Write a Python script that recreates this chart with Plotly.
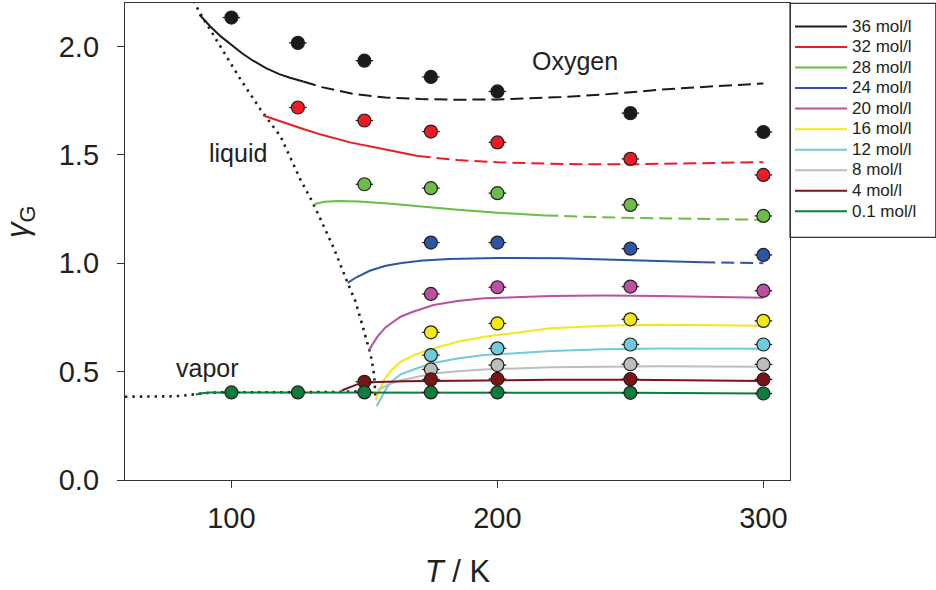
import plotly.graph_objects as go

# ---------------- data ----------------
densities = ["36 mol/l", "32 mol/l", "28 mol/l", "24 mol/l", "20 mol/l",
             "16 mol/l", "12 mol/l", "8 mol/l", "4 mol/l", "0.1 mol/l"]
colors = ["#1a1a1a", "#ec1c24", "#6abd45", "#2c55a5", "#bb4fa0",
          "#f2e814", "#6ccbdc", "#bdbdbd", "#7a1416", "#0d7d3b"]

# equation-of-state curves: solid part
solid_T = [
    [88, 92, 96, 100, 104, 108, 113, 118, 122, 127],
    [112, 120, 127, 134, 145, 158, 170],
    [131, 135, 140, 148, 160, 171, 185, 200, 209, 218],
    [143.7, 147, 152, 158, 164, 172, 182, 200, 224, 250, 277],
    [151.7, 154.9, 158, 163.6, 168, 176, 185, 195, 220, 240, 261, 280, 300],
    [154.2, 157.3, 160, 163.6, 169, 176, 185, 195, 205, 220, 240, 261, 280, 300],
    [154.6, 158.6, 161, 163.6, 169, 176, 185, 195, 220, 240, 261, 280, 300],
    [155, 159, 163.6, 169, 176, 185, 195, 220, 240, 261, 280, 300],
    [141.5, 144, 147, 150, 155, 165, 176, 195, 220, 250, 275, 300],
    [86.6, 89, 92, 96, 100, 125, 150, 175, 200, 250, 300],
]
solid_G = [
    [2.146, 2.093, 2.046, 2.006, 1.968, 1.935, 1.900, 1.872, 1.855, 1.838],
    [1.681, 1.647, 1.619, 1.592, 1.556, 1.524, 1.494],
    [1.272, 1.283, 1.287, 1.284, 1.274, 1.261, 1.246, 1.233, 1.226, 1.220],
    [0.909, 0.935, 0.965, 0.988, 1.001, 1.012, 1.019, 1.024, 1.023, 1.015, 1.004],
    [0.599, 0.661, 0.705, 0.753, 0.775, 0.807, 0.826, 0.838, 0.849, 0.851, 0.849, 0.846, 0.841],
    [0.368, 0.460, 0.505, 0.545, 0.578, 0.607, 0.638, 0.661, 0.676, 0.700, 0.712, 0.716, 0.714, 0.711],
    [0.340, 0.430, 0.462, 0.487, 0.512, 0.540, 0.560, 0.576, 0.595, 0.603, 0.607, 0.607, 0.605],
    [0.415, 0.440, 0.460, 0.475, 0.491, 0.502, 0.510, 0.520, 0.524, 0.525, 0.524, 0.522],
    [0.413, 0.425, 0.440, 0.448, 0.452, 0.455, 0.457, 0.460, 0.462, 0.462, 0.460, 0.457],
    [0.394, 0.400, 0.403, 0.404, 0.404, 0.404, 0.404, 0.404, 0.403, 0.402, 0.399],
]
# extrapolated (dashed) part
dash_T = [
    [127, 134, 146, 158, 171, 184, 200, 209, 224, 240, 261, 280, 300],
    [170, 185, 200, 215, 230, 250, 270, 285, 300],
    [218, 230, 245, 261, 280, 300],
    [277, 288, 300],
    [], [], [], [], [], [],
]
dash_G = [
    [1.838, 1.812, 1.780, 1.764, 1.757, 1.754, 1.755, 1.758, 1.766, 1.778, 1.800, 1.815, 1.829],
    [1.494, 1.476, 1.465, 1.459, 1.456, 1.456, 1.459, 1.462, 1.466],
    [1.220, 1.215, 1.210, 1.207, 1.203, 1.200],
    [1.004, 1.001, 1.000],
    [], [], [], [], [], [],
]

# simulation results (markers)
pts_T = [
    [100, 125, 150, 175, 200, 250, 300],
    [125, 150, 175, 200, 250, 300],
    [150, 175, 200, 250, 300],
    [175, 200, 250, 300],
    [175, 200, 250, 300],
    [175, 200, 250, 300],
    [175, 200, 250, 300],
    [175, 200, 250, 300],
    [150, 175, 200, 250, 300],
    [100, 125, 150, 175, 200, 250, 300],
]
pts_G = [
    [2.133, 2.016, 1.934, 1.859, 1.792, 1.692, 1.605],
    [1.718, 1.658, 1.607, 1.557, 1.481, 1.407],
    [1.364, 1.346, 1.323, 1.269, 1.218],
    [1.095, 1.095, 1.067, 1.038],
    [0.858, 0.889, 0.892, 0.873],
    [0.681, 0.722, 0.741, 0.734],
    [0.576, 0.607, 0.625, 0.625],
    [0.510, 0.530, 0.534, 0.533],
    [0.453, 0.464, 0.466, 0.465, 0.464],
    [0.404, 0.404, 0.404, 0.404, 0.404, 0.402, 0.399],
]
T_err = 3.3  # horizontal uncertainty of the simulation points, K

# saturated vapour / liquid lines (dotted)
vap_T = [60, 70, 78, 82, 86, 90, 95, 100, 120, 140, 150]
vap_G = [0.384, 0.384, 0.386, 0.389, 0.395, 0.401, 0.404, 0.405, 0.405, 0.406, 0.410]
liq_T = [84.5, 87.8, 94.7, 103.5, 111, 118.5, 126, 130.4, 133.6, 138.5, 143.7,
         146.7, 149.2, 151.1, 152.4, 153.4, 153.8, 154.2]
liq_G = [2.24, 2.162, 2.023, 1.846, 1.708, 1.584, 1.384, 1.284, 1.2, 1.069, 0.909,
         0.822, 0.715, 0.637, 0.576, 0.507, 0.461, 0.368]

x_ticks = [100, 200, 300]
y_ticks = [0.0, 0.5, 1.0, 1.5, 2.0]

# ---------------- figure ----------------
FONT = "Arial, 'Liberation Sans', Helvetica, sans-serif"
INK = "#231f20"
fig = go.Figure()

# saturation lines
for tx, gy in ((vap_T, vap_G), (liq_T, liq_G)):
    fig.add_trace(go.Scatter(x=tx, y=gy, mode="lines", showlegend=False,
                             hoverinfo="skip",
                             line=dict(color=INK, width=2.6, dash="2.4px,5px")))


def legend_label(name):
    return "<span style='font-size:17px'>" + name + "</span>"


# curves
for i, name in enumerate(densities):
    fig.add_trace(go.Scatter(x=solid_T[i], y=solid_G[i], mode="lines",
                             name=legend_label(name),
                             legendgroup=name, line=dict(color=colors[i], width=2)))
for i, name in enumerate(densities):
    if dash_T[i]:
        fig.add_trace(go.Scatter(x=dash_T[i], y=dash_G[i], mode="lines", name=name,
                                 legendgroup=name, showlegend=False,
                                 line=dict(color=colors[i], width=2, dash="13px,6px")))

# simulation points
for i, name in enumerate(densities):
    fig.add_trace(go.Scatter(
        x=pts_T[i], y=pts_G[i], mode="markers", name=name, legendgroup=name,
        showlegend=False,
        marker=dict(size=13, color=colors[i], line=dict(color=INK, width=1.2)),
        error_x=dict(type="constant", value=T_err, width=0, thickness=1.3, color=INK),
    ))

annot_font = dict(family=FONT, size=25, color=INK)
fig.add_annotation(x=229, y=1.931, text="Oxygen", showarrow=False, font=annot_font)
fig.add_annotation(x=102.4, y=1.507, text="liquid", showarrow=False, font=annot_font)
fig.add_annotation(x=91, y=0.517, text="vapor", showarrow=False, font=annot_font)
# y-axis title
fig.add_annotation(xref="paper", yref="paper", x=-0.157, y=0.54, textangle=-90,
                   xanchor="center", yanchor="middle",
                   text="<i>γ</i><sub>G</sub>", showarrow=False,
                   font=dict(family=FONT, size=31, color=INK))

# legend frame
fig.add_shape(type="rect", xref="paper", yref="paper",
              x0=1.0, x1=1.2192, y0=0.5088, y1=0.9994,
              line=dict(color="#333333", width=1.2), fillcolor="rgba(0,0,0,0)",
              layer="above")

axis_common = dict(showline=True, linecolor="#333333", linewidth=1.3, mirror=True,
                   ticks="outside", ticklen=7, tickwidth=1.3, tickcolor="#333333",
                   showgrid=False, zeroline=False, automargin=False,
                   tickfont=dict(family=FONT, size=29, color=INK))

fig.update_layout(
    width=936, height=590,
    margin=dict(l=125, r=146, t=3, b=110, autoexpand=False),
    paper_bgcolor="white", plot_bgcolor="white",
    font=dict(family=FONT, color=INK),
    showlegend=True,
    legend=dict(x=1.0, xanchor="left", y=0.983, yanchor="top",
                borderwidth=0, bgcolor="rgba(0,0,0,0)",
                font=dict(family=FONT, size=13.5, color=INK),
                itemwidth=52, tracegroupgap=0),
    xaxis=dict(range=[60, 310], tickvals=x_ticks, ticklabelstandoff=5,
               title=dict(text="<i>T</i> / K", standoff=27,
                          font=dict(family=FONT, size=31, color=INK)),
               **axis_common),
    yaxis=dict(range=[0, 2.2], tickvals=y_ticks, tickformat=".1f", ticklabelstandoff=12,
               **axis_common),
)

fig.write_html("out.html", config={"displayModeBar": False},
               post_script="document.body.style.margin='0';"
                           "document.body.style.overflow='hidden';")
